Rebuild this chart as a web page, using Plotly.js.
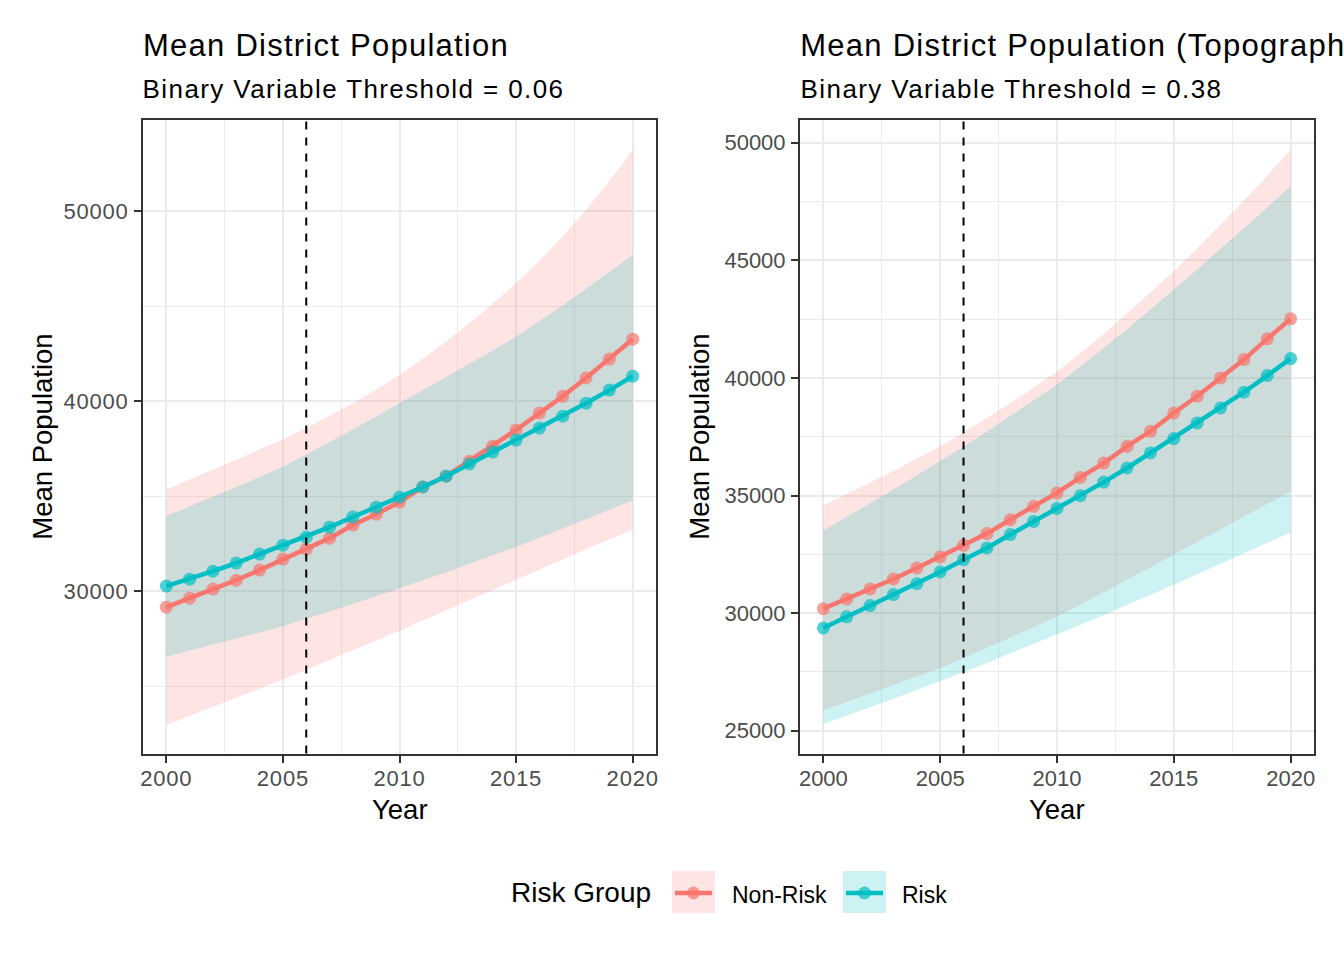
<!DOCTYPE html>
<html>
<head>
<meta charset="utf-8">
<script src="https://cdn.plot.ly/plotly-3.0.1.min.js"></script>
<style>
  html, body { margin: 0; padding: 0; background: #ffffff; }
  #chart { width: 1344px; height: 960px; }
  .annotation[data-index="0"] text, .annotation[data-index="2"] text { letter-spacing: 1.25px; }
  .annotation[data-index="1"] text, .annotation[data-index="3"] text { letter-spacing: 1.4px; }
  .xtick text, .ytick text { letter-spacing: 0.8px; }
</style>
</head>
<body>
<div id="chart"></div>
<script>
// ---------------- data ----------------
const years = [2000,2001,2002,2003,2004,2005,2006,2007,2008,2009,2010,2011,2012,2013,2014,2015,2016,2017,2018,2019,2020];
const cutoffYear = 2006;
const groups = ["Non-Risk", "Risk"];

// Panel 1: threshold 0.06
const p1NonRiskMean  = [29160,29630,30110,30580,31110,31690,32210,32790,33480,34050,34690,35480,36050,36840,37630,38480,39370,40250,41220,42210,43260];
const p1NonRiskUpper = [35360,35870,36380,36910,37450,38000,38600,39220,39880,40600,41370,42230,43130,44100,45120,46200,47380,48680,50060,51580,53210];
const p1NonRiskLower = [22960,23430,23900,24380,24860,25350,25860,26370,26880,27400,27920,28460,29000,29540,30080,30620,31150,31670,32200,32720,33250];
const p1RiskMean     = [30270,30630,31050,31480,31950,32420,32840,33370,33900,34420,34950,35480,36050,36690,37320,37950,38580,39210,39890,40580,41310];
const p1RiskUpper    = [33950,34450,34960,35480,36010,36550,37190,37840,38510,39190,39880,40560,41250,41950,42660,43390,44210,45050,45910,46790,47690];
const p1RiskLower    = [26550,26860,27180,27500,27830,28160,28540,28930,29330,29730,30140,30570,31000,31440,31880,32330,32810,33290,33780,34280,34790];

// Panel 2: topographic, threshold 0.38
const p2NonRiskMean  = [30190,30600,31030,31450,31920,32390,32880,33380,33970,34540,35110,35770,36380,37090,37730,38510,39220,40000,40780,41660,42510];
const p2NonRiskUpper = [34570,35050,35540,36040,36560,37090,37680,38290,38920,39580,40270,41050,41870,42740,43620,44530,45500,46500,47530,48600,49700];
const p2NonRiskLower = [25870,26220,26570,26930,27300,27670,28090,28520,28960,29410,29860,30370,30890,31420,31950,32490,33020,33560,34100,34640,35180];
const p2RiskMean     = [29370,29840,30320,30790,31250,31750,32270,32770,33340,33900,34450,34990,35570,36170,36810,37420,38080,38720,39390,40100,40820];
const p2RiskUpper    = [33510,34080,34660,35250,35850,36450,37080,37720,38370,39040,39710,40480,41270,42070,42900,43750,44610,45480,46360,47250,48150];
const p2RiskLower    = [25290,25640,26000,26360,26730,27100,27490,27880,28280,28680,29080,29500,29920,30340,30770,31210,31650,32090,32530,32980,33430];

const titles    = ["Mean District Population", "Mean District Population (Topographic)"];
const subtitles = ["Binary Variable Threshold = 0.06", "Binary Variable Threshold = 0.38"];
const xTickVals = [2000, 2005, 2010, 2015, 2020];

// ---------------- styling ----------------
const W = 1344, H = 960;
const FONT = "Liberation Sans, Arial, Helvetica, sans-serif";
const colNR = "#F8766D", colR = "#00BFC4";
const fillNR = "rgba(248,118,109,0.2)", fillR = "rgba(0,191,196,0.2)";
const ptNR = "rgba(248,118,109,0.7)", ptR = "rgba(0,191,196,0.7)";
const px = v => v / W;
const py = v => 1 - v / H;

function ribbon(lower, upper, fill, xa, ya) {
  return [
    {x: years, y: lower, xaxis: xa, yaxis: ya, mode: "lines", line: {width: 0, color: fill}, hoverinfo: "skip", showlegend: false},
    {x: years, y: upper, xaxis: xa, yaxis: ya, mode: "lines", line: {width: 0, color: fill}, fill: "tonexty", fillcolor: fill, hoverinfo: "skip", showlegend: false}
  ];
}
function meanLine(y, col, pt, xa, ya, name) {
  return {x: years, y: y, xaxis: xa, yaxis: ya, name: name, mode: "lines+markers",
          line: {color: col, width: 4.5}, marker: {color: pt, size: 13, line: {width: 0}}, showlegend: false};
}

const data = [].concat(
  ribbon(p1NonRiskLower, p1NonRiskUpper, fillNR, "x", "y"),
  ribbon(p1RiskLower, p1RiskUpper, fillR, "x", "y"),
  ribbon(p2NonRiskLower, p2NonRiskUpper, fillNR, "x2", "y2"),
  ribbon(p2RiskLower, p2RiskUpper, fillR, "x2", "y2"),
  [meanLine(p1NonRiskMean, colNR, ptNR, "x", "y", groups[0]),
   meanLine(p1RiskMean, colR, ptR, "x", "y", groups[1]),
   meanLine(p2NonRiskMean, colNR, ptNR, "x2", "y2", groups[0]),
   meanLine(p2RiskMean, colR, ptR, "x2", "y2", groups[1])]
);

const tickFont = {family: FONT, size: 22, color: "#4D4D4D"};
function xAxis(domain, anchor) {
  return {domain: domain, anchor: anchor, range: [1999, 2021], tickvals: xTickVals, ticktext: xTickVals.map(String),
          showgrid: true, gridcolor: "#EBEBEB", gridwidth: 2, zeroline: false,
          minor: {tickvals: [2002.5, 2007.5, 2012.5, 2017.5], showgrid: true, gridcolor: "#EBEBEB", gridwidth: 1, ticklen: 0},
          showline: true, linecolor: "#333333", linewidth: 2, mirror: true,
          ticks: "outside", ticklen: 7, tickwidth: 2, tickcolor: "#333333", tickfont: tickFont, ticklabelstandoff: -3,
          fixedrange: true};
}
function yAxis(domain, anchor, range, dtick) {
  return {domain: domain, anchor: anchor, range: range, dtick: dtick, tick0: 0, tickformat: "d",
          showgrid: true, gridcolor: "#EBEBEB", gridwidth: 2, zeroline: false,
          minor: {dtick: dtick / 2, showgrid: true, gridcolor: "#EBEBEB", gridwidth: 1, ticklen: 0},
          showline: true, linecolor: "#333333", linewidth: 2, mirror: true,
          ticks: "outside", ticklen: 7, tickwidth: 2, tickcolor: "#333333", tickfont: tickFont, ticklabelstandoff: 1,
          fixedrange: true};
}

const yDom = [py(753.5), py(120)];
const layout = {
  width: W, height: H,
  margin: {l: 0, r: 0, t: 0, b: 0},
  paper_bgcolor: "#ffffff", plot_bgcolor: "#ffffff",
  showlegend: false, hovermode: false,
  font: {family: FONT, color: "#000000"},
  xaxis: xAxis([px(143), px(656)], "y"),
  yaxis: yAxis(yDom, "x", [21460, 54790], 10000),
  xaxis2: xAxis([px(800), px(1314)], "y2"),
  yaxis2: yAxis(yDom, "x2", [24031, 50965], 5000),
  shapes: [
    {type: "line", xref: "x", yref: "y domain", x0: cutoffYear, x1: cutoffYear, y0: 0, y1: 1, line: {color: "#000000", width: 2, dash: "8px,8px"}},
    {type: "line", xref: "x2", yref: "y2 domain", x0: cutoffYear, x1: cutoffYear, y0: 0, y1: 1, line: {color: "#000000", width: 2, dash: "8px,8px"}},
    // legend keys
    {type: "rect", xref: "paper", yref: "paper", x0: px(672), x1: px(715), y0: py(913), y1: py(871), fillcolor: fillNR, line: {width: 0}},
    {type: "line", xref: "paper", yref: "paper", x0: px(675), x1: px(712), y0: py(893), y1: py(893), line: {color: colNR, width: 4.5}},
    {type: "circle", xref: "paper", yref: "paper", x0: px(687), x1: px(700), y0: py(899.5), y1: py(886.5), fillcolor: ptNR, line: {width: 0}},
    {type: "rect", xref: "paper", yref: "paper", x0: px(843), x1: px(886), y0: py(913), y1: py(871), fillcolor: fillR, line: {width: 0}},
    {type: "line", xref: "paper", yref: "paper", x0: px(846), x1: px(883), y0: py(893), y1: py(893), line: {color: colR, width: 4.5}},
    {type: "circle", xref: "paper", yref: "paper", x0: px(858), x1: px(871), y0: py(899.5), y1: py(886.5), fillcolor: ptR, line: {width: 0}}
  ],
  annotations: [
    {text: titles[0], xref: "paper", yref: "paper", x: px(156), y: py(45), xanchor: "left", yanchor: "middle", showarrow: false, font: {family: FONT, size: 31, color: "#000000"}},
    {text: subtitles[0], xref: "paper", yref: "paper", x: px(163), y: py(89), xanchor: "left", yanchor: "middle", showarrow: false, font: {family: FONT, size: 26, color: "#000000"}},
    {text: titles[1], xref: "paper", yref: "paper", x: px(822), y: py(45), xanchor: "left", yanchor: "middle", showarrow: false, font: {family: FONT, size: 31, color: "#000000"}},
    {text: subtitles[1], xref: "paper", yref: "paper", x: px(821), y: py(89), xanchor: "left", yanchor: "middle", showarrow: false, font: {family: FONT, size: 26, color: "#000000"}},
    {text: "Year", xref: "paper", yref: "paper", x: px(399.5), y: py(809.5), xanchor: "center", yanchor: "middle", showarrow: false, font: {family: FONT, size: 27.5, color: "#000000"}},
    {text: "Year", xref: "paper", yref: "paper", x: px(1057), y: py(809.5), xanchor: "center", yanchor: "middle", showarrow: false, font: {family: FONT, size: 27.5, color: "#000000"}},
    {text: "Mean Population", xref: "paper", yref: "paper", x: px(43), y: py(436.75), xanchor: "center", yanchor: "middle", textangle: -90, showarrow: false, font: {family: FONT, size: 27.5, color: "#000000"}},
    {text: "Mean Population", xref: "paper", yref: "paper", x: px(700), y: py(436.75), xanchor: "center", yanchor: "middle", textangle: -90, showarrow: false, font: {family: FONT, size: 27.5, color: "#000000"}},
    {text: "Risk Group", xref: "paper", yref: "paper", x: px(509), y: py(892), xanchor: "left", yanchor: "middle", showarrow: false, font: {family: FONT, size: 28, color: "#000000"}},
    {text: groups[0], xref: "paper", yref: "paper", x: px(730), y: py(894.5), xanchor: "left", yanchor: "middle", showarrow: false, font: {family: FONT, size: 23, color: "#000000"}},
    {text: groups[1], xref: "paper", yref: "paper", x: px(900), y: py(894.5), xanchor: "left", yanchor: "middle", showarrow: false, font: {family: FONT, size: 23, color: "#000000"}}
  ]
};

Plotly.newPlot("chart", data, layout, {staticPlot: true, displayModeBar: false});
</script>
</body>
</html>
